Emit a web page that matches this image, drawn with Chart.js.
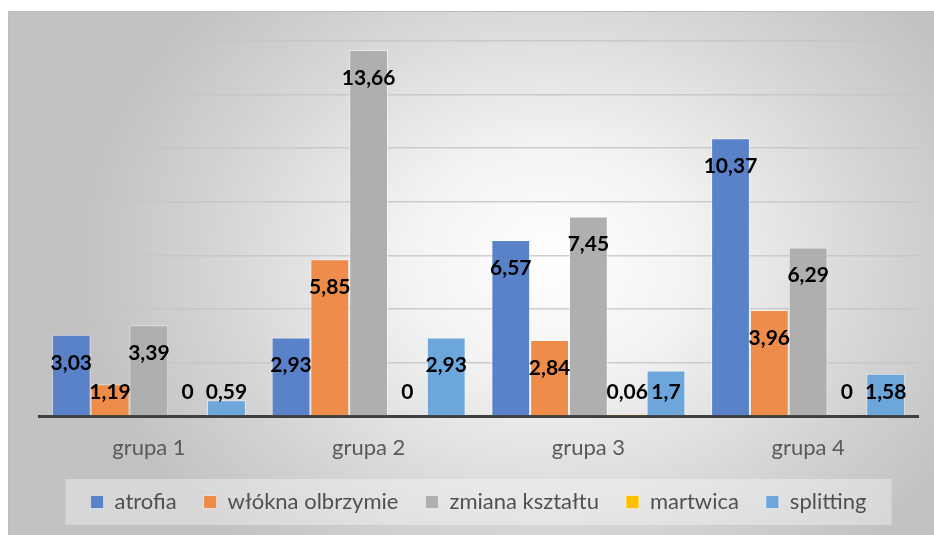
<!DOCTYPE html>
<html>
<head>
<meta charset="utf-8">
<script src="https://cdn.jsdelivr.net/npm/chart.js@4/dist/chart.umd.min.js"></script>
<style>
html,body{margin:0;padding:0;background:#fff;}
#wrap{position:relative;width:934px;height:535px;}
</style>
</head>
<body>
<div id="wrap"><canvas id="c" width="934" height="535"></canvas></div>
<script>
const categories = ['grupa 1', 'grupa 2', 'grupa 3', 'grupa 4'];
const seriesNames = ['atrofia', 'włókna olbrzymie', 'zmiana kształtu', 'martwica', 'splitting'];
const atrofia = [3.03, 2.93, 6.57, 10.37];
const wloknaOlbrzymie = [1.19, 5.85, 2.84, 3.96];
const zmianaKsztaltu = [3.39, 13.66, 7.45, 6.29];
const martwica = [0, 0, 0.06, 0];
const splitting = [0.59, 2.93, 1.7, 1.58];
const yMin = 0, yMax = 14, yStep = 2;

const colors = ['#5A82C9', '#EE8C4A', '#AFAFAF', '#FFC000', '#6CA6DB'];
const seriesData = [atrofia, wloknaOlbrzymie, zmianaKsztaltu, martwica, splitting];

const FONT = 'Lato, "Open Sans", sans-serif';

const bgPlugin = {
  id: 'bg',
  beforeDraw(chart) {
    const ctx = chart.ctx;
    ctx.save();
    ctx.fillStyle = '#ffffff';
    ctx.fillRect(0, 0, chart.width, chart.height);
    const cx = 550, cy = 260, rx = 470, ry = 380;
    ctx.beginPath();
    ctx.rect(8, 11, chart.width - 8, chart.height - 11);
    ctx.clip();
    ctx.translate(cx, cy);
    ctx.scale(rx / ry, 1);
    const g = ctx.createRadialGradient(0, 0, 0, 0, 0, ry);
    g.addColorStop(0, '#FFFFFF');
    g.addColorStop(0.3, '#F3F3F3');
    g.addColorStop(0.75, '#D2D2D2');
    g.addColorStop(1, '#C2C2C2');
    ctx.fillStyle = g;
    ctx.fillRect(-2000, -2000, 4000, 4000);
    ctx.restore();
    ctx.save();
    ctx.strokeStyle = '#BDBDBD';
    ctx.lineWidth = 1;
    ctx.beginPath();
    ctx.moveTo(8, 11.5); ctx.lineTo(chart.width, 11.5);
    ctx.moveTo(8.5, 11); ctx.lineTo(8.5, chart.height);
    ctx.stroke();
    const lg = chart.legend;
    if (lg && lg.legendHitBoxes && lg.legendHitBoxes.length) {
      const hb = lg.legendHitBoxes;
      const cyL = hb[0].top + hb[0].height / 2;
      const ca = chart.chartArea;
      const mid = (ca.left + ca.right) / 2;
      ctx.fillStyle = 'rgba(255,255,255,0.35)';
      ctx.fillRect(mid - 413, cyL - 23, 826, 46);
    }
    ctx.restore();
  }
};

const labelPlugin = {
  id: 'valueLabels',
  afterDatasetsDraw(chart) {
    const ctx = chart.ctx;
    const yScale = chart.scales.y;
    const base = yScale.getPixelForValue(0);
    ctx.save();
    ctx.font = 'bold 21px ' + FONT;
    ctx.fillStyle = '#000000';
    ctx.textAlign = 'center';
    ctx.textBaseline = 'middle';
    chart.data.datasets.forEach((ds, i) => {
      const meta = chart.getDatasetMeta(i);
      meta.data.forEach((el, j) => {
        const v = ds.data[j];
        const txt = String(v).replace('.', ',');
        const y = Math.min(el.y + 28, base - 24);
        ctx.fillText(txt, el.x, y);
      });
    });
    ctx.restore();
  }
};

new Chart(document.getElementById('c'), {
  type: 'bar',
  data: {
    labels: categories,
    datasets: seriesNames.map((name, i) => ({
      label: name,
      data: seriesData[i],
      backgroundColor: colors[i],
      borderColor: 'rgba(255,255,255,0.55)',
      borderWidth: 1,
      categoryPercentage: 0.883,
      barPercentage: 1.0
    }))
  },
  options: {
    responsive: false,
    animation: false,
    devicePixelRatio: 1,
    layout: { padding: { left: 39, right: 16, top: 41, bottom: 12 } },
    plugins: {
      tooltip: { enabled: false },
      legend: {
        position: 'bottom',
        fullSize: false,
        labels: {
          font: { family: FONT, size: 22 },
          color: '#505050',
          boxWidth: 13,
          boxHeight: 13,
          padding: 27
        }
      }
    },
    scales: {
      x: {
        grid: { display: false, drawTicks: false },
        border: { display: true, color: '#3F3F3F', width: 3 },
        ticks: { font: { family: FONT, size: 22 }, color: '#595959', padding: 19 },
        afterFit(s) { s.height = 48; }
      },
      y: {
        min: yMin, max: yMax,
        ticks: { stepSize: yStep, display: false },
        grid: { color: 'rgba(198,198,198,0.85)', lineWidth: 1.5, drawTicks: false },
        border: { display: false }
      }
    }
  },
  plugins: [bgPlugin, labelPlugin]
});
</script>
</body>
</html>
